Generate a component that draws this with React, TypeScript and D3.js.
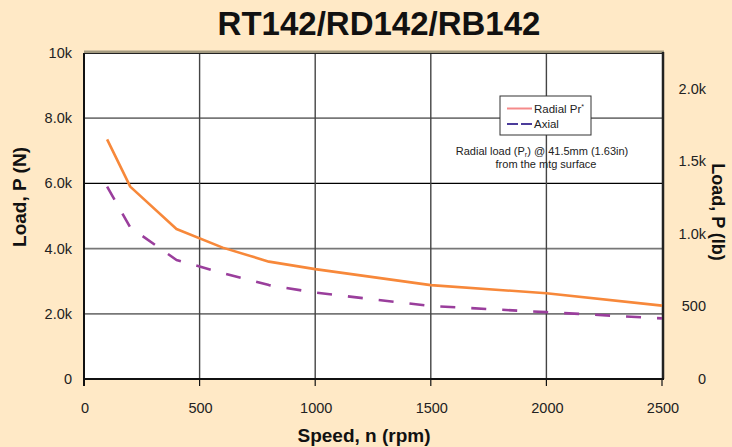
import React from "react";
import * as d3 from "d3";

const speeds = [100, 200, 400, 600, 800, 1000, 1500, 2000, 2500];
const radialLoad = [7350, 5900, 4600, 4030, 3600, 3370, 2880, 2630, 2250];
const axialLoad = [5900, 4650, 3650, 3250, 2880, 2650, 2240, 2050, 1860];

const xTicks = [0, 500, 1000, 1500, 2000, 2500];
const leftTicks = [0, 2000, 4000, 6000, 8000, 10000];
const leftTickLabels = ["0", "2.0k", "4.0k", "6.0k", "8.0k", "10k"];
const rightTicks = [0, 500, 1000, 1500, 2000];
const rightTickLabels = ["0", "500", "1.0k", "1.5k", "2.0k"];

const width = 732;
const height = 447;
const margin = { top: 53, right: 70, bottom: 68, left: 84 };
const font = "'Liberation Sans', Arial, Helvetica, sans-serif";

const App = () => {
  const x = d3
    .scaleLinear()
    .domain([0, 2500])
    .range([margin.left, width - margin.right]);
  const y = d3
    .scaleLinear()
    .domain([0, 10000])
    .range([height - margin.bottom, margin.top]);
  // 10 kN = 2248 lbf
  const yLb = d3
    .scaleLinear()
    .domain([0, 10000 * 0.2248])
    .range([height - margin.bottom, margin.top]);

  const x0 = x(0);
  const x1 = x(2500);
  const yBottom = y(0);
  const yTop = y(10000);

  const line = d3
    .line<number>()
    .x((d, i) => x(speeds[i]))
    .y(d => y(d));

  return (
    <svg
      width={width}
      height={height}
      style={{ position: "absolute", left: 0, top: 0, background: "#FFE9C6" }}
    >
      <rect x={0} y={0} width={width} height={height} fill="#FFE9C6" />
      <text
        x={379}
        y={35}
        textAnchor="middle"
        fontFamily={font}
        fontWeight="bold"
        fontSize={33}
        fill="#111"
      >
        RT142/RD142/RB142
      </text>

      {/* plot background */}
      <rect x={x0} y={yTop} width={x1 - x0} height={yBottom - yTop} fill="#fff" />

      {/* horizontal grid */}
      {leftTicks.slice(1, -1).map(t => (
        <line
          key={"h" + t}
          x1={x0}
          x2={x1}
          y1={y(t)}
          y2={y(t)}
          stroke={t === 6000 ? "#000" : "#777"}
          strokeWidth={t === 6000 ? 1.2 : 1.8}
        />
      ))}
      {/* vertical grid */}
      {xTicks.slice(1, -1).map(t => (
        <line
          key={"v" + t}
          x1={x(t)}
          x2={x(t)}
          y1={yTop}
          y2={yBottom}
          stroke="#444"
          strokeWidth={1.4}
        />
      ))}

      {/* frame */}
      <line x1={x0} x2={x1 + 2} y1={yTop - 1} y2={yTop - 1} stroke="#a39a80" strokeWidth={3} />
      <line x1={x0} x2={x1} y1={yTop + 0.5} y2={yTop + 0.5} stroke="#222" strokeWidth={1} />
      <line x1={x1 + 1} x2={x1 + 1} y1={yTop - 1} y2={yBottom} stroke="#222" strokeWidth={2.5} />
      <line x1={x0} x2={x0} y1={yTop} y2={yBottom + 7} stroke="#111" strokeWidth={2} />
      <line x1={x0} x2={x1 + 2} y1={yBottom} y2={yBottom} stroke="#111" strokeWidth={2} />
      {xTicks.map(t => (
        <line
          key={"t" + t}
          x1={x(t)}
          x2={x(t)}
          y1={yBottom}
          y2={yBottom + 7}
          stroke="#111"
          strokeWidth={1.2}
        />
      ))}

      {/* series */}
      <path
        d={line(radialLoad) || ""}
        fill="none"
        stroke="#F7883A"
        strokeWidth={2.6}
        strokeLinejoin="round"
      />
      <path
        d={line(axialLoad) || ""}
        fill="none"
        stroke="#9A3E9C"
        strokeWidth={2.6}
        strokeDasharray="15,16"
        strokeLinejoin="round"
      />

      {/* axes labels */}
      {leftTicks.map((t, i) => (
        <text
          key={"l" + t}
          x={72}
          y={y(t) + 5}
          textAnchor="end"
          fontFamily={font}
          fontSize={14.5}
          fill="#222"
        >
          {leftTickLabels[i]}
        </text>
      ))}
      {rightTicks.map((t, i) => (
        <text
          key={"r" + t}
          x={706}
          y={yLb(t) + 5}
          textAnchor="end"
          fontFamily={font}
          fontSize={14.5}
          fill="#222"
        >
          {rightTickLabels[i]}
        </text>
      ))}
      {xTicks.map(t => (
        <text
          key={"x" + t}
          x={x(t) + 1}
          y={413}
          textAnchor="middle"
          fontFamily={font}
          fontSize={14.5}
          fill="#222"
        >
          {t}
        </text>
      ))}

      <text
        x={364}
        y={442}
        textAnchor="middle"
        fontFamily={font}
        fontWeight="bold"
        fontSize={19}
        fill="#111"
      >
        Speed, n (rpm)
      </text>
      <text
        transform="translate(26,197) rotate(-90)"
        textAnchor="middle"
        fontFamily={font}
        fontWeight="bold"
        fontSize={19}
        fill="#111"
      >
        Load, P (N)
      </text>
      <text
        transform="translate(712,212) rotate(90)"
        textAnchor="middle"
        fontFamily={font}
        fontWeight="bold"
        fontSize={18}
        fill="#111"
      >
        Load, P (lb)
      </text>

      {/* legend */}
      <rect x={500} y={96} width={91} height={39} fill="#fff" stroke="#333" strokeWidth={1} />
      <line x1={507} x2={532} y1={108.5} y2={108.5} stroke="#F58A8A" strokeWidth={2} />
      <text x={534} y={112.5} fontFamily={font} fontSize={11.5} fill="#222">
        Radial Pr<tspan dy={-4} fontSize={7}>*</tspan>
      </text>
      <line
        x1={507}
        x2={532}
        y1={124}
        y2={124}
        stroke="#4B3C9B"
        strokeWidth={2}
        strokeDasharray="11,3"
      />
      <text x={534} y={128} fontFamily={font} fontSize={11.5} fill="#222">
        Axial
      </text>

      {/* annotation */}
      <text x={542} y={154.5} textAnchor="middle" fontFamily={font} fontSize={11} fill="#222">
        Radial load (P<tspan dy={2} fontSize={7}>r</tspan>
        <tspan dy={-2}>) @ 41.5mm (1.63in)</tspan>
      </text>
      <text x={546} y={168} textAnchor="middle" fontFamily={font} fontSize={11} fill="#222">
        from the mtg surface
      </text>
    </svg>
  );
};

export default App;
